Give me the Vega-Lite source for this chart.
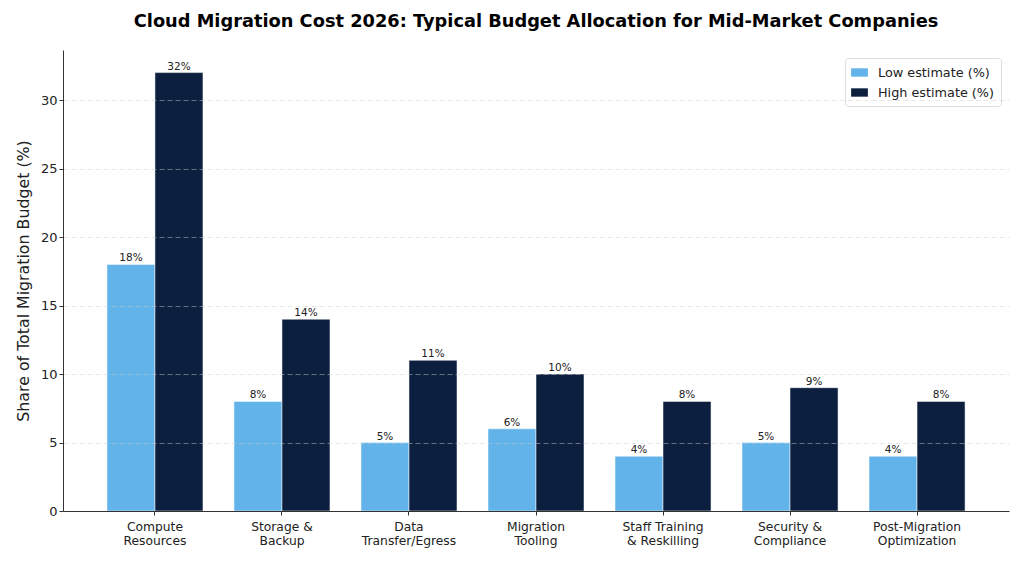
{
  "$schema": "https://vega.github.io/schema/vega-lite/v6.json",
  "width": 946,
  "height": 461,
  "autosize": {"type": "none"},
  "padding": {"left": 63, "top": 50, "right": 15, "bottom": 52},
  "background": "white",
  "config": {
    "font": "DejaVu Sans",
    "view": {"stroke": null}
  },
  "title": {
    "text": "Cloud Migration Cost 2026: Typical Budget Allocation for Mid-Market Companies",
    "fontSize": 17.8,
    "fontWeight": "bold",
    "color": "black",
    "anchor": "middle",
    "offset": 19
  },
  "data": {
    "values": [
      {"category": "Compute\nResources", "series": "Low estimate (%)", "value": 18},
      {"category": "Compute\nResources", "series": "High estimate (%)", "value": 32},
      {"category": "Storage &\nBackup", "series": "Low estimate (%)", "value": 8},
      {"category": "Storage &\nBackup", "series": "High estimate (%)", "value": 14},
      {"category": "Data\nTransfer/Egress", "series": "Low estimate (%)", "value": 5},
      {"category": "Data\nTransfer/Egress", "series": "High estimate (%)", "value": 11},
      {"category": "Migration\nTooling", "series": "Low estimate (%)", "value": 6},
      {"category": "Migration\nTooling", "series": "High estimate (%)", "value": 10},
      {"category": "Staff Training\n& Reskilling", "series": "Low estimate (%)", "value": 4},
      {"category": "Staff Training\n& Reskilling", "series": "High estimate (%)", "value": 8},
      {"category": "Security &\nCompliance", "series": "Low estimate (%)", "value": 5},
      {"category": "Security &\nCompliance", "series": "High estimate (%)", "value": 9},
      {"category": "Post-Migration\nOptimization", "series": "Low estimate (%)", "value": 4},
      {"category": "Post-Migration\nOptimization", "series": "High estimate (%)", "value": 8}
    ]
  },
  "encoding": {
    "x": {
      "field": "category",
      "type": "nominal",
      "sort": null,
      "scale": {"paddingInner": 0.244, "paddingOuter": 0.346},
      "axis": {
        "title": null,
        "labelAngle": 0,
        "labelExpr": "split(datum.value, '\\n')",
        "labelFontSize": 12.3,
        "labelColor": "#222",
        "labelPadding": 5,
        "labelLineHeight": 14,
        "tickColor": "#333",
        "tickSize": 4,
        "domainColor": "#333",
        "domainWidth": 1,
        "zindex": 2
      }
    },
    "xOffset": {
      "field": "series",
      "type": "nominal",
      "sort": ["Low estimate (%)", "High estimate (%)"],
      "scale": {"paddingInner": 0, "paddingOuter": 0}
    },
    "y": {
      "field": "value",
      "type": "quantitative",
      "scale": {"domain": [0, 33.65], "nice": false},
      "axis": {
        "title": "Share of Total Migration Budget (%)",
        "titleFontSize": 15.8,
        "titleFontWeight": "normal",
        "titleColor": "#222",
        "titlePadding": 9,
        "values": [0, 5, 10, 15, 20, 25, 30],
        "labelFontSize": 13,
        "labelColor": "#222",
        "tickColor": "#333",
        "tickSize": 4,
        "domainColor": "#333",
        "grid": true,
        "gridColor": "#cccccc",
        "gridOpacity": 0.6,
        "gridDash": [5, 3],
        "gridWidth": 0.8,
        "zindex": 1
      }
    }
  },
  "layer": [
    {
      "mark": {"type": "bar", "stroke": "white", "strokeWidth": 0.5},
      "encoding": {
        "color": {
          "field": "series",
          "type": "nominal",
          "sort": ["Low estimate (%)", "High estimate (%)"],
          "scale": {
            "domain": ["Low estimate (%)", "High estimate (%)"],
            "range": ["#62b3ea", "#0c1f3f"]
          },
          "legend": {
            "title": null,
            "orient": "top-right",
            "offset": 8,
            "labelFontSize": 12.8,
            "labelColor": "#222",
            "labelOffset": 10,
            "symbolType": "M-1,-0.5H1V0.5H-1Z",
            "symbolSize": 280,
            "symbolStrokeWidth": 0,
            "rowPadding": 4,
            "padding": 6,
            "strokeColor": "#dddddd",
            "fillColor": "white",
            "cornerRadius": 3
          }
        }
      }
    },
    {
      "mark": {"type": "text", "baseline": "bottom", "dy": -1, "fontSize": 10.5, "color": "#222"},
      "encoding": {
        "text": {"field": "label", "type": "nominal"}
      },
      "transform": [{"calculate": "datum.value + '%'", "as": "label"}]
    }
  ]
}
